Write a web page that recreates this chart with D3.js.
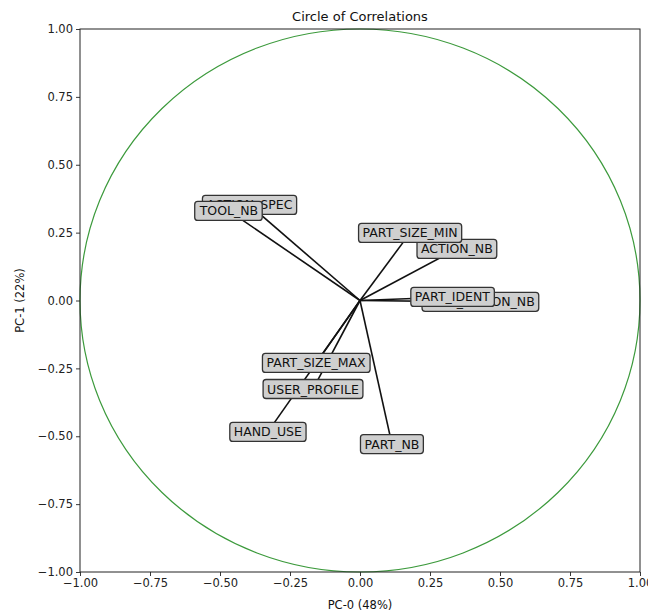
<!DOCTYPE html>
<html><head><meta charset="utf-8">
<script src="https://cdn.jsdelivr.net/npm/d3@7"></script>
<style>body{margin:0;background:#fff}svg{display:block}</style>
</head><body>
<svg id="c" width="648" height="614"></svg>
<script>
const variables = ["ACTION_SPEC","TOOL_NB","ACTION_NB","PART_SIZE_MIN","PART_ACTION_NB","PART_IDENT","PART_SIZE_MAX","USER_PROFILE","HAND_USE","PART_NB"];
const pc0 = [-0.395,-0.468,0.346,0.179,0.43,0.33,-0.157,-0.168,-0.329,0.114];
const pc1 = [0.352,0.33,0.19,0.249,-0.005,0.013,-0.23,-0.326,-0.484,-0.529];
const tickValues = [-1,-0.75,-0.5,-0.25,0,0.25,0.5,0.75,1];
const title = "Circle of Correlations";
const xLabel = "PC-0 (48%)";
const yLabel = "PC-1 (22%)";

const svg = d3.select("#c");
const L=80,R=640,T=29,B=572;
const x = d3.scaleLinear().domain([-1,1]).range([L,R]);
const y = d3.scaleLinear().domain([-1,1]).range([B,T]);
const font = "DejaVu Sans, sans-serif";

// circle
svg.append("ellipse").attr("cx",x(0)).attr("cy",y(0))
  .attr("rx",x(1)-x(0)).attr("ry",y(0)-y(1))
  .attr("fill","none").attr("stroke","#3c9a3c").attr("stroke-width",1.2);

// axes
const xa = svg.append("g").attr("transform",`translate(0,${B})`)
  .call(d3.axisBottom(x).tickValues(tickValues).tickFormat(d3.format(".2f")).tickSize(4).tickPadding(3));
const ya = svg.append("g").attr("transform",`translate(${L},0)`)
  .call(d3.axisLeft(y).tickValues(tickValues).tickFormat(d3.format(".2f")).tickSize(4).tickPadding(3));
[xa,ya].forEach(g=>{
  g.select(".domain").remove();
  g.selectAll("text").attr("font-family",font).attr("font-size",11.5).attr("fill","#222")
    .text(d=>d3.format(".2f")(d).replace("-","\u2212"));
  g.selectAll("line").attr("stroke","#222").attr("stroke-width",0.9);
});
svg.append("rect").attr("x",L).attr("y",T).attr("width",R-L).attr("height",B-T)
  .attr("fill","none").attr("stroke","#222").attr("stroke-width",1);

// vectors
const data = variables.map((v,i)=>({name:v,x:pc0[i],y:pc1[i]}));
svg.append("g").selectAll("line").data(data).join("line")
  .attr("x1",x(0)).attr("y1",y(0)).attr("x2",d=>x(d.x)).attr("y2",d=>y(d.y))
  .attr("stroke","#111").attr("stroke-width",1.6);

// labels
const lg = svg.append("g");
data.forEach(d=>{
  const g = lg.append("g");
  const t = g.append("text").attr("x",x(d.x)).attr("y",y(d.y)).attr("dy","0.36em")
    .attr("text-anchor","middle").attr("font-family",font).attr("font-size",12.5).attr("fill","#111").text(d.name);
  const bb = t.node().getBBox();
  g.insert("rect","text").attr("x",bb.x-4).attr("y",y(d.y)-9.5).attr("width",bb.width+8).attr("height",19)
    .attr("rx",3).attr("fill","#cfcfcf").attr("stroke","#333").attr("stroke-width",1.3);
});

// titles
svg.append("text").attr("x",(L+R)/2).attr("y",21).attr("text-anchor","middle")
  .attr("font-family",font).attr("font-size",13).attr("fill","#111").text(title);
svg.append("text").attr("x",(L+R)/2).attr("y",609).attr("text-anchor","middle")
  .attr("font-family",font).attr("font-size",11.5).attr("fill","#111").text(xLabel);
svg.append("text").attr("transform",`translate(24,${(T+B)/2}) rotate(-90)`).attr("text-anchor","middle")
  .attr("font-family",font).attr("font-size",11.5).attr("fill","#111").text(yLabel);
</script>
</body></html>
